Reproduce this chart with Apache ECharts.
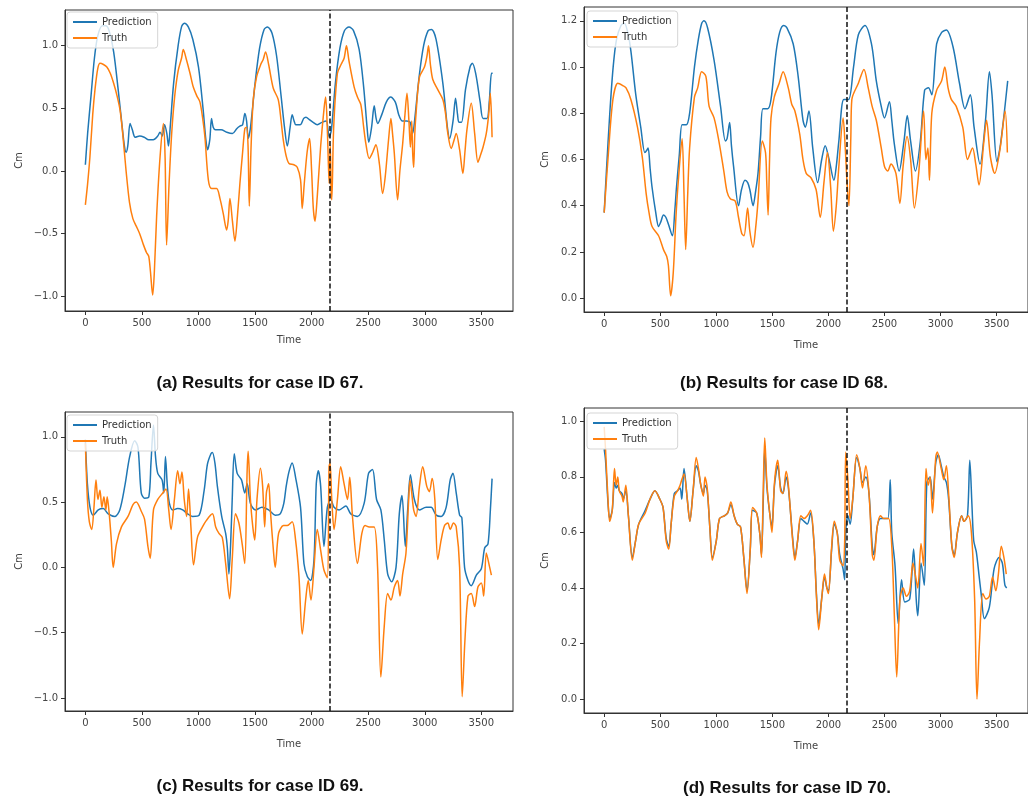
<!DOCTYPE html>
<html>
<head>
<meta charset="utf-8">
<script src="https://cdn.jsdelivr.net/npm/echarts@6/dist/echarts.min.js"></script>
<style>
  html, body { margin: 0; padding: 0; background: #fff; }
  #main { width: 1028px; height: 798px; }
</style>
</head>
<body>
<div id="main"></div>
<script>
// tick labels
var timeTicks = [0, 500, 1000, 1500, 2000, 2500, 3000, 3500];
var cmTicksA = [-1.0, -0.5, 0.0, 0.5, 1.0];
var cmTicksB = [0.0, 0.2, 0.4, 0.6, 0.8, 1.0, 1.2];
var cmTicksC = [-1.0, -0.5, 0.0, 0.5, 1.0];
var cmTicksD = [0.0, 0.2, 0.4, 0.6, 0.8, 1.0];
var splitTime = 2160;  // 训练/测试分界
var captions = ['(a) Results for case ID 67.', '(b) Results for case ID 68.',
                '(c) Results for case ID 69.', '(d) Results for case ID 70.'];

// case 67
var predA = [[0,0.05],[20,0.3],[50,0.6],[80,0.9],[110,1.08],[150,1.16],[180,1.16],[210,1.12],[250,0.95],[290,0.65],[320,0.4],[345,0.2],[360,0.15],[375,0.2],[395,0.38],[415,0.33],[440,0.27],[480,0.28],[520,0.27],[560,0.25],[600,0.25],[640,0.28],[660,0.31],[680,0.28],[700,0.37],[720,0.3],[735,0.2],[750,0.35],[780,0.7],[820,1.0],[850,1.15],[875,1.18],[910,1.15],[950,1.05],[1000,0.83],[1040,0.5],[1065,0.25],[1080,0.17],[1100,0.25],[1115,0.42],[1130,0.35],[1150,0.33],[1200,0.33],[1250,0.31],[1300,0.30],[1340,0.34],[1370,0.36],[1390,0.37],[1410,0.46],[1425,0.4],[1440,0.26],[1460,0.35],[1500,0.7],[1540,0.98],[1580,1.13],[1610,1.15],[1650,1.1],[1690,0.92],[1730,0.6],[1760,0.35],[1785,0.2],[1810,0.35],[1828,0.45],[1845,0.4],[1860,0.37],[1900,0.37],[1930,0.42],[1950,0.43],[1980,0.41],[2010,0.39],[2050,0.37],[2095,0.39],[2130,0.40],[2155,0.27],[2175,0.33],[2210,0.7],[2250,0.98],[2290,1.12],[2330,1.15],[2370,1.12],[2420,0.97],[2460,0.67],[2490,0.35],[2505,0.23],[2530,0.35],[2553,0.52],[2570,0.42],[2585,0.38],[2620,0.45],[2660,0.55],[2700,0.59],[2740,0.55],[2770,0.45],[2800,0.40],[2840,0.40],[2870,0.39],[2893,0.30],[2910,0.40],[2950,0.75],[2990,1.0],[3030,1.12],[3060,1.13],[3100,1.05],[3160,0.70],[3200,0.35],[3220,0.26],[3250,0.4],[3272,0.58],[3290,0.45],[3302,0.39],[3325,0.39],[3360,0.65],[3400,0.83],[3420,0.86],[3450,0.78],[3490,0.55],[3515,0.42],[3550,0.42],[3570,0.55],[3590,0.78],[3600,0.78]];
var truthA = [[0,-0.27],[20,-0.1],[40,0.11],[65,0.45],[85,0.65],[110,0.82],[130,0.86],[160,0.85],[190,0.83],[220,0.78],[250,0.7],[280,0.6],[306,0.49],[330,0.3],[360,0.0],[390,-0.25],[420,-0.38],[450,-0.44],[480,-0.5],[510,-0.58],[540,-0.65],[560,-0.68],[575,-0.8],[595,-0.99],[610,-0.8],[630,-0.36],[660,0.11],[690,0.38],[705,0.1],[718,-0.59],[740,-0.1],[763,0.3],[790,0.6],[820,0.8],[850,0.9],[866,0.97],[890,0.9],[925,0.78],[954,0.67],[985,0.6],[1013,0.55],[1040,0.4],[1057,0.27],[1087,-0.07],[1116,-0.14],[1160,-0.14],[1190,-0.22],[1219,-0.34],[1249,-0.47],[1262,-0.4],[1278,-0.22],[1300,-0.4],[1322,-0.56],[1345,-0.35],[1366,-0.1],[1390,0.15],[1410,0.34],[1425,0.35],[1438,0.2],[1449,-0.28],[1465,0.2],[1484,0.57],[1513,0.75],[1550,0.85],[1572,0.89],[1593,0.95],[1620,0.85],[1661,0.66],[1705,0.57],[1730,0.4],[1749,0.25],[1775,0.12],[1800,0.06],[1843,0.05],[1873,0.03],[1902,-0.07],[1917,-0.3],[1935,-0.1],[1960,0.15],[1982,0.26],[2000,0.0],[2015,-0.3],[2030,-0.4],[2050,-0.2],[2080,0.2],[2110,0.5],[2124,0.59],[2140,0.3],[2155,-0.1],[2165,0.2],[2172,-0.15],[2178,-0.23],[2195,0.35],[2228,0.78],[2260,0.85],[2287,0.9],[2308,1.0],[2330,0.88],[2376,0.67],[2405,0.59],[2435,0.53],[2460,0.35],[2479,0.22],[2509,0.1],[2540,0.15],[2568,0.21],[2600,0.05],[2627,-0.18],[2650,-0.05],[2680,0.25],[2701,0.42],[2715,0.3],[2731,0.14],[2760,-0.23],[2780,0.0],[2805,0.22],[2825,0.45],[2843,0.62],[2860,0.4],[2873,0.19],[2885,0.4],[2893,0.15],[2902,0.03],[2912,0.3],[2923,0.46],[2953,0.75],[2997,0.83],[3020,0.92],[3033,1.0],[3050,0.85],[3071,0.73],[3115,0.65],[3160,0.57],[3185,0.45],[3204,0.3],[3234,0.18],[3260,0.25],[3278,0.30],[3308,0.17],[3337,-0.02],[3355,0.15],[3373,0.33],[3411,0.54],[3441,0.30],[3470,0.07],[3490,0.12],[3515,0.19],[3544,0.30],[3565,0.45],[3580,0.62],[3595,0.27]];

// case 68
var predB = [[0,0.37],[20,0.55],[50,0.8],[80,1.0],[110,1.12],[150,1.18],[180,1.19],[210,1.15],[238,1.07],[282,0.88],[326,0.74],[363,0.63],[380,0.64],[392,0.65],[410,0.56],[427,0.48],[460,0.37],[485,0.31],[505,0.33],[529,0.36],[550,0.35],[573,0.32],[608,0.27],[630,0.38],[645,0.48],[670,0.62],[695,0.75],[733,0.75],[762,0.80],[805,1.0],[840,1.12],[870,1.19],[890,1.2],[922,1.17],[980,1.03],[1038,0.83],[1081,0.68],[1096,0.69],[1119,0.76],[1135,0.66],[1154,0.57],[1198,0.40],[1225,0.47],[1256,0.51],[1280,0.5],[1299,0.47],[1328,0.40],[1350,0.46],[1372,0.54],[1395,0.7],[1416,0.82],[1459,0.82],[1488,0.86],[1532,1.06],[1565,1.15],[1600,1.18],[1630,1.17],[1686,1.1],[1730,0.96],[1773,0.77],[1794,0.74],[1826,0.81],[1860,0.65],[1904,0.50],[1940,0.6],[1971,0.66],[2006,0.60],[2049,0.51],[2070,0.57],[2093,0.68],[2137,0.86],[2180,0.86],[2224,1.0],[2267,1.14],[2326,1.18],[2384,1.10],[2427,0.94],[2471,0.83],[2500,0.78],[2544,0.85],[2565,0.77],[2587,0.67],[2631,0.55],[2674,0.68],[2703,0.79],[2733,0.68],[2776,0.55],[2820,0.68],[2858,0.90],[2892,0.91],[2922,0.88],[2965,1.10],[3010,1.15],[3052,1.16],[3110,1.09],[3169,0.93],[3218,0.82],[3265,0.88],[3299,0.74],[3352,0.58],[3401,0.77],[3436,0.98],[3459,0.88],[3503,0.59],[3530,0.65],[3561,0.77],[3599,0.94]];
var truthB = [[0,0.37],[35,0.61],[78,0.86],[122,0.93],[166,0.92],[195,0.91],[238,0.86],[297,0.74],[340,0.61],[375,0.45],[400,0.37],[427,0.31],[485,0.27],[529,0.21],[558,0.18],[573,0.14],[593,0.01],[616,0.11],[640,0.35],[660,0.50],[695,0.69],[712,0.45],[727,0.21],[745,0.45],[762,0.65],[805,0.87],[834,0.91],[869,0.98],[907,0.96],[936,0.83],[980,0.78],[1023,0.68],[1067,0.55],[1096,0.46],[1125,0.43],[1169,0.42],[1198,0.35],[1227,0.28],[1247,0.27],[1279,0.39],[1299,0.29],[1328,0.22],[1350,0.3],[1372,0.42],[1410,0.68],[1439,0.63],[1450,0.5],[1462,0.36],[1475,0.6],[1488,0.78],[1517,0.87],[1561,0.93],[1596,0.98],[1642,0.91],[1672,0.84],[1701,0.81],[1744,0.71],[1773,0.60],[1802,0.54],[1846,0.52],[1890,0.47],[1927,0.35],[1960,0.5],[1991,0.63],[2020,0.48],[2044,0.29],[2070,0.4],[2093,0.57],[2131,0.78],[2150,0.65],[2166,0.50],[2183,0.40],[2200,0.7],[2209,0.86],[2267,0.93],[2317,0.99],[2355,0.91],[2390,0.83],[2427,0.77],[2471,0.65],[2500,0.57],[2529,0.55],[2558,0.58],[2602,0.54],[2637,0.41],[2666,0.57],[2701,0.70],[2733,0.60],[2767,0.39],[2805,0.54],[2849,0.81],[2869,0.60],[2887,0.65],[2901,0.51],[2922,0.80],[2965,0.90],[3009,0.94],[3038,1.0],[3067,0.91],[3096,0.86],[3140,0.83],[3198,0.74],[3241,0.60],[3285,0.65],[3314,0.58],[3343,0.49],[3387,0.68],[3410,0.77],[3445,0.61],[3483,0.54],[3532,0.65],[3576,0.81],[3596,0.63]];

// case 69
var predC = [[0,0.98],[18,0.64],[41,0.46],[70,0.40],[114,0.44],[158,0.45],[202,0.41],[260,0.39],[304,0.44],[348,0.62],[392,0.85],[436,0.97],[465,0.92],[494,0.57],[523,0.53],[561,0.54],[580,0.8],[602,1.09],[620,0.85],[640,0.72],[678,0.67],[693,0.57],[708,0.85],[725,0.62],[743,0.49],[772,0.44],[816,0.45],[860,0.44],[904,0.41],[947,0.39],[1006,0.40],[1050,0.59],[1079,0.79],[1110,0.87],[1123,0.88],[1145,0.8],[1167,0.62],[1205,0.39],[1240,0.26],[1255,0.15],[1269,-0.05],[1285,0.2],[1298,0.52],[1316,0.87],[1342,0.72],[1380,0.67],[1409,0.57],[1430,0.64],[1459,0.49],[1503,0.44],[1561,0.46],[1620,0.44],[1678,0.40],[1722,0.41],[1754,0.49],[1775,0.62],[1799,0.73],[1828,0.80],[1858,0.69],[1902,0.46],[1932,0.03],[1962,-0.07],[1991,-0.10],[2021,0.06],[2041,0.64],[2059,0.74],[2080,0.62],[2109,0.16],[2139,0.46],[2169,0.52],[2198,0.46],[2243,0.44],[2302,0.47],[2346,0.41],[2405,0.39],[2464,0.49],[2503,0.72],[2538,0.75],[2574,0.52],[2612,0.44],[2642,0.21],[2672,-0.05],[2707,-0.11],[2746,0.0],[2775,0.41],[2799,0.55],[2828,0.16],[2849,0.44],[2873,0.71],[2908,0.52],[2953,0.44],[3012,0.46],[3056,0.46],[3101,0.40],[3145,0.39],[3189,0.46],[3225,0.67],[3249,0.72],[3278,0.57],[3308,0.40],[3328,0.38],[3352,0.0],[3382,-0.10],[3411,-0.14],[3456,-0.06],[3500,-0.01],[3530,0.15],[3559,0.18],[3580,0.44],[3595,0.68]];
var truthC = [[0,0.95],[18,0.52],[35,0.35],[56,0.29],[76,0.46],[94,0.67],[111,0.52],[129,0.59],[146,0.46],[164,0.54],[181,0.44],[193,0.54],[211,0.41],[230,0.2],[246,0.0],[275,0.18],[319,0.31],[377,0.39],[421,0.48],[450,0.50],[494,0.43],[523,0.37],[553,0.16],[573,0.07],[602,0.44],[640,0.52],[684,0.57],[713,0.60],[737,0.44],[757,0.29],[787,0.52],[816,0.74],[836,0.64],[854,0.73],[874,0.52],[895,0.39],[912,0.60],[933,0.31],[956,0.02],[991,0.23],[1035,0.31],[1070,0.36],[1123,0.41],[1152,0.31],[1181,0.26],[1210,0.23],[1240,0.03],[1275,-0.24],[1298,0.06],[1327,0.41],[1357,0.34],[1386,0.18],[1409,0.03],[1430,0.74],[1439,0.89],[1459,0.52],[1480,0.31],[1497,0.21],[1517,0.52],[1547,0.76],[1567,0.62],[1585,0.31],[1600,0.57],[1620,0.64],[1635,0.44],[1664,0.11],[1678,0.0],[1708,0.26],[1751,0.32],[1784,0.32],[1828,0.35],[1858,0.21],[1888,-0.07],[1917,-0.51],[1947,-0.25],[1970,-0.10],[1994,-0.25],[2021,0.0],[2050,0.29],[2080,0.13],[2109,-0.02],[2139,-0.08],[2154,0.77],[2163,0.80],[2178,0.52],[2198,0.29],[2228,0.52],[2257,0.77],[2287,0.64],[2317,0.52],[2337,0.69],[2361,0.39],[2405,0.03],[2444,0.26],[2473,0.32],[2509,0.31],[2553,0.31],[2583,0.0],[2612,-0.84],[2642,-0.45],[2672,-0.20],[2701,-0.25],[2731,-0.15],[2760,-0.10],[2781,-0.22],[2805,-0.05],[2834,0.11],[2858,0.52],[2870,0.67],[2885,0.57],[2902,0.44],[2923,0.39],[2953,0.62],[2982,0.77],[3018,0.62],[3041,0.58],[3065,0.68],[3089,0.52],[3115,0.06],[3145,0.21],[3175,0.32],[3204,0.34],[3225,0.29],[3254,0.34],[3278,0.31],[3308,0.0],[3331,-0.99],[3355,-0.56],[3382,-0.22],[3411,-0.20],[3441,-0.30],[3470,-0.15],[3500,-0.12],[3521,-0.22],[3544,0.11],[3574,0.0],[3589,-0.06]];

// case 70
var predD = [[0,0.9],[12,0.86],[35,0.70],[49,0.65],[72,0.68],[92,0.78],[107,0.76],[121,0.77],[135,0.75],[159,0.74],[170,0.72],[193,0.75],[216,0.66],[251,0.51],[280,0.57],[308,0.63],[366,0.68],[409,0.72],[452,0.75],[496,0.72],[525,0.69],[553,0.58],[576,0.55],[597,0.63],[625,0.74],[654,0.75],[677,0.76],[692,0.72],[700,0.76],[712,0.83],[741,0.72],[764,0.64],[793,0.75],[821,0.84],[841,0.82],[862,0.77],[885,0.74],[899,0.77],[919,0.75],[942,0.62],[965,0.51],[1000,0.57],[1029,0.65],[1072,0.66],[1101,0.67],[1130,0.70],[1159,0.66],[1187,0.63],[1216,0.62],[1245,0.51],[1274,0.39],[1303,0.54],[1323,0.68],[1360,0.67],[1389,0.59],[1403,0.52],[1418,0.70],[1432,0.90],[1452,0.76],[1476,0.67],[1496,0.62],[1519,0.77],[1548,0.84],[1574,0.76],[1594,0.74],[1623,0.80],[1643,0.76],[1681,0.58],[1701,0.51],[1725,0.57],[1754,0.65],[1783,0.64],[1812,0.63],[1841,0.67],[1870,0.57],[1893,0.38],[1913,0.27],[1942,0.37],[1965,0.44],[1986,0.40],[2000,0.39],[2029,0.54],[2052,0.63],[2078,0.60],[2101,0.52],[2130,0.47],[2145,0.43],[2154,0.60],[2174,0.66],[2194,0.63],[2217,0.72],[2252,0.87],[2281,0.83],[2304,0.78],[2333,0.80],[2362,0.74],[2391,0.55],[2405,0.52],[2435,0.62],[2464,0.65],[2493,0.65],[2530,0.65],[2551,0.79],[2565,0.60],[2594,0.48],[2623,0.27],[2652,0.43],[2681,0.35],[2725,0.36],[2760,0.54],[2783,0.36],[2797,0.30],[2826,0.49],[2855,0.41],[2878,0.78],[2907,0.80],[2928,0.72],[2957,0.85],[2980,0.88],[3006,0.84],[3029,0.80],[3052,0.78],[3072,0.72],[3101,0.55],[3122,0.52],[3151,0.60],[3188,0.66],[3209,0.64],[3240,0.66],[3261,0.86],[3280,0.70],[3296,0.57],[3319,0.53],[3342,0.45],[3362,0.38],[3391,0.29],[3435,0.33],[3478,0.47],[3522,0.51],[3551,0.49],[3574,0.41],[3590,0.40]];
var truthD = [[0,0.98],[12,0.90],[35,0.71],[49,0.64],[72,0.68],[92,0.83],[107,0.77],[121,0.80],[135,0.75],[159,0.73],[170,0.71],[193,0.77],[216,0.66],[251,0.50],[280,0.57],[308,0.63],[366,0.67],[409,0.72],[452,0.75],[496,0.72],[525,0.69],[553,0.57],[576,0.54],[597,0.63],[625,0.73],[654,0.75],[677,0.77],[692,0.79],[712,0.81],[741,0.72],[764,0.64],[793,0.75],[821,0.87],[841,0.83],[862,0.77],[885,0.73],[899,0.80],[919,0.76],[942,0.62],[965,0.50],[1000,0.57],[1029,0.65],[1072,0.66],[1101,0.67],[1130,0.71],[1159,0.66],[1187,0.63],[1216,0.62],[1245,0.51],[1274,0.38],[1303,0.54],[1323,0.69],[1360,0.67],[1389,0.59],[1403,0.51],[1418,0.74],[1432,0.94],[1452,0.77],[1476,0.67],[1496,0.60],[1519,0.78],[1548,0.86],[1574,0.75],[1594,0.74],[1623,0.82],[1643,0.77],[1681,0.57],[1701,0.50],[1725,0.57],[1754,0.66],[1783,0.65],[1812,0.66],[1841,0.68],[1870,0.57],[1893,0.37],[1913,0.25],[1942,0.37],[1965,0.45],[1986,0.40],[2000,0.38],[2029,0.55],[2052,0.64],[2078,0.60],[2101,0.50],[2130,0.48],[2145,0.57],[2154,0.89],[2174,0.79],[2194,0.65],[2217,0.72],[2252,0.88],[2281,0.83],[2304,0.76],[2333,0.84],[2362,0.74],[2391,0.52],[2405,0.50],[2435,0.62],[2464,0.66],[2493,0.65],[2536,0.65],[2565,0.55],[2588,0.30],[2609,0.08],[2638,0.36],[2667,0.40],[2696,0.37],[2725,0.39],[2754,0.49],[2774,0.45],[2797,0.40],[2826,0.56],[2849,0.48],[2870,0.83],[2890,0.77],[2907,0.80],[2928,0.67],[2957,0.87],[2971,0.89],[3006,0.83],[3029,0.79],[3052,0.84],[3072,0.74],[3101,0.55],[3122,0.51],[3151,0.60],[3188,0.66],[3209,0.64],[3246,0.66],[3275,0.60],[3304,0.36],[3325,0.0],[3348,0.21],[3377,0.38],[3406,0.36],[3435,0.37],[3464,0.44],[3493,0.39],[3516,0.45],[3542,0.55],[3565,0.51],[3586,0.45]];

var BLUE = '#1f77b4', ORANGE = '#ff7f0e';
var FONT = 'DejaVu Sans';

// 四个子图的位置
var panels = [
  { pred: predA, truth: truthA, ticks: cmTicksA, yMin: -1.117, yMax: 1.285,
    grid: { left: 65, top: 10, width: 448, height: 301 }, yGap: 41, xGap: 24, leg: [67, 12], cap: [260, 383] },
  { pred: predB, truth: truthB, ticks: cmTicksB, yMin: -0.06, yMax: 1.26,
    grid: { left: 584, top: 7, width: 455, height: 305 }, yGap: 34, xGap: 28, leg: [587, 11], cap: [784, 383] },
  { pred: predC, truth: truthC, ticks: cmTicksC, yMin: -1.10, yMax: 1.19,
    grid: { left: 65, top: 412, width: 448, height: 299 }, yGap: 41, xGap: 28, leg: [67, 415], cap: [260, 786] },
  { pred: predD, truth: truthD, ticks: cmTicksD, yMin: -0.05, yMax: 1.048,
    grid: { left: 584, top: 408, width: 455, height: 305 }, yGap: 34, xGap: 28, leg: [587, 413], cap: [787, 788] }
];

var axisCommon = {
  axisLine: { show: true, onZero: false, lineStyle: { color: '#333', width: 1 } },
  axisTick: { show: true, length: 4, lineStyle: { color: '#333' } },
  splitLine: { show: false },
  nameLocation: 'middle',
  nameTextStyle: { fontFamily: FONT, fontSize: 10, color: '#444' }
};

var grids = [], xAxes = [], yAxes = [], series = [], legends = [], texts = [];

panels.forEach(function (p, i) {
  grids.push(Object.assign({ show: true, borderColor: '#333', borderWidth: 1, backgroundColor: '#fff' }, p.grid));

  xAxes.push(Object.assign({}, axisCommon, {
    gridIndex: i, type: 'value', min: -180, max: 3780,
    name: 'Time', nameGap: p.xGap,
    axisTick: Object.assign({}, axisCommon.axisTick, { customValues: timeTicks }),
    axisLabel: {
      customValues: timeTicks, margin: 7, fontFamily: FONT, fontSize: 10, color: '#444',
      formatter: function (v) { return String(Math.round(v)); }
    }
  }));

  yAxes.push(Object.assign({}, axisCommon, {
    gridIndex: i, type: 'value', min: p.yMin, max: p.yMax,
    name: 'Cm', nameGap: p.yGap,
    axisTick: Object.assign({}, axisCommon.axisTick, { customValues: p.ticks }),
    axisLabel: {
      customValues: p.ticks, margin: 7, fontFamily: FONT, fontSize: 10, color: '#444',
      formatter: function (v) { return v.toFixed(1).replace('-', '\u2212'); }
    }
  }));

  series.push({
    name: 'Prediction', type: 'line', xAxisIndex: i, yAxisIndex: i,
    data: p.pred, showSymbol: false, smooth: 0.3, z: 2,
    itemStyle: { color: BLUE }, lineStyle: { color: BLUE, width: 1.5 }
  });
  series.push({
    name: 'Truth', type: 'line', xAxisIndex: i, yAxisIndex: i,
    data: p.truth, showSymbol: false, smooth: 0.3, z: 3,
    itemStyle: { color: ORANGE }, lineStyle: { color: ORANGE, width: 1.5 },
    markLine: {
      silent: true, symbol: ['none', 'none'], label: { show: false }, z: 5,
      lineStyle: { color: '#111', type: [5, 2.5], width: 1.5 },
      data: [{ xAxis: splitTime }]
    }
  });

  legends.push({
    left: p.leg[0], top: p.leg[1], orient: 'vertical',
    data: ['Prediction', 'Truth'], icon: 'rect',
    itemWidth: 24, itemHeight: 2, itemGap: 4, padding: [4, 6],
    backgroundColor: 'rgba(255,255,255,0.8)', borderColor: '#d5d5d5', borderWidth: 1, borderRadius: 3,
    textStyle: { fontFamily: FONT, fontSize: 10, color: '#333', lineHeight: 12 },
    selectedMode: false
  });

  texts.push({
    type: 'text', x: p.cap[0], y: p.cap[1], z: 10,
    style: { text: captions[i], font: 'bold 17px "Liberation Sans"', fill: '#111', align: 'center', verticalAlign: 'middle' }
  });
});

var chart = echarts.init(document.getElementById('main'));
chart.setOption({
  animation: false,
  backgroundColor: '#fff',
  grid: grids,
  xAxis: xAxes,
  yAxis: yAxes,
  legend: legends,
  series: series,
  graphic: texts
});
</script>
</body>
</html>
